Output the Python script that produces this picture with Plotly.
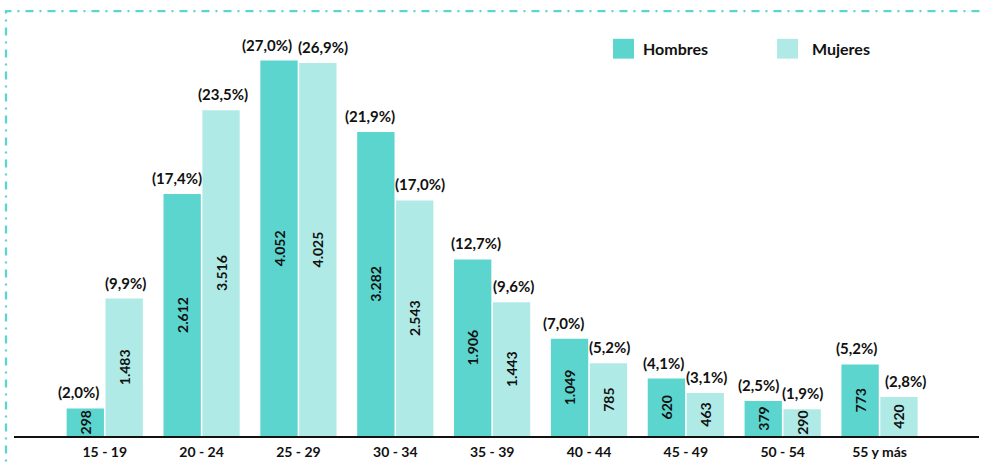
import plotly.graph_objects as go

categories = ["15 - 19", "20 - 24", "25 - 29", "30 - 34", "35 - 39", "40 - 44", "45 - 49", "50 - 54", "55 y más"]
hombres = [298, 2612, 4052, 3282, 1906, 1049, 620, 379, 773]
mujeres = [1483, 3516, 4025, 2543, 1443, 785, 463, 290, 420]
hombres_pct = ["(2,0%)", "(17,4%)", "(27,0%)", "(21,9%)", "(12,7%)", "(7,0%)", "(4,1%)", "(2,5%)", "(5,2%)"]
mujeres_pct = ["(9,9%)", "(23,5%)", "(26,9%)", "(17,0%)", "(9,6%)", "(5,2%)", "(3,1%)", "(1,9%)", "(2,8%)"]

# horizontal nudges (px) of the percentage labels, as placed in the original
h_nudge = [-7, -5, -12, -5.5, 3.5, -5.5, -3, -5, -4]
m_nudge = [1, 1.5, 5, 5, 1.5, 1, 1, 0, 6.5]

C_H = "#5DD5CF"
C_M = "#B0EAE6"
FONT = "Lato"
TXT = "#111111"

def fmt(v):
    return f"{v:,}".replace(",", ".")

fig = go.Figure()
for name, vals, col in [("Hombres", hombres, C_H), ("Mujeres", mujeres, C_M)]:
    fig.add_trace(go.Bar(
        x=categories, y=vals, name=name, marker=dict(color=col, line=dict(width=0)),
        text=[fmt(v) for v in vals], textposition="inside", insidetextanchor="middle",
        textangle=-90, constraintext="none", cliponaxis=False,
        textfont=dict(family=FONT, size=14, color=TXT, weight="bold"),
        showlegend=False, hoverinfo="skip",
    ))

annotations = []
for c, v, p, n in zip(categories, hombres, hombres_pct, h_nudge):
    annotations.append(dict(x=c, y=v, text=f"<b>{p}</b>", showarrow=False, xshift=-19.5 + n,
                            yanchor="bottom", yshift=5, font=dict(family=FONT, size=15, color=TXT)))
for c, v, p, n in zip(categories, mujeres, mujeres_pct, m_nudge):
    annotations.append(dict(x=c, y=v, text=f"<b>{p}</b>", showarrow=False, xshift=19.5 + n,
                            yanchor="bottom", yshift=5, font=dict(family=FONT, size=15, color=TXT)))

W, H = 983, 464
L, R, T, B = 14, 4, 20, 24
pw, ph = W - L - R, H - T - B
def px(x):
    return (x - L) / pw
def py(y):
    return (H - B - y) / ph

shapes = [
    dict(type="rect", xref="paper", yref="paper", x0=px(613), x1=px(634), y0=py(59), y1=py(39),
         fillcolor=C_H, line=dict(width=0)),
    dict(type="rect", xref="paper", yref="paper", x0=px(777), x1=px(798), y0=py(59), y1=py(39),
         fillcolor=C_M, line=dict(width=0)),
    dict(type="path", xref="paper", yref="paper",
         path=f"M {px(6)} {py(480)} L {px(6)} {py(11)} L {px(1000)} {py(11)}",
         line=dict(color="#5DD5CF", width=2.3, dash="8px,6px,2px,6px")),
]
annotations.append(dict(xref="paper", yref="paper", x=px(641), y=py(49), xanchor="left", yanchor="middle",
                        text="<b>Hombres</b>", showarrow=False, font=dict(family=FONT, size=16, color=TXT)))
annotations.append(dict(xref="paper", yref="paper", x=px(810), y=py(49), xanchor="left", yanchor="middle",
                        text="<b>Mujeres</b>", showarrow=False, font=dict(family=FONT, size=16, color=TXT)))

fig.update_layout(
    width=W, height=H,
    margin=dict(l=L, r=R, t=T, b=B, pad=0),
    paper_bgcolor="white", plot_bgcolor="white",
    barmode="group", bargap=0.197, bargroupgap=0.04,
    annotations=annotations, shapes=shapes, hovermode=False,
    xaxis=dict(range=[-0.937, 9.027], showline=True, linecolor=TXT, linewidth=1.5,
               showgrid=False, ticks="", ticklabelstandoff=3, fixedrange=True,
               tickfont=dict(family=FONT, size=14, color=TXT, weight="bold")),
    yaxis=dict(range=[0, 4490], visible=False, showgrid=False, zeroline=False, fixedrange=True),
)

fig.write_html("out.html", config={"displayModeBar": False, "staticPlot": True},
               post_script="document.body.style.margin='0';document.body.style.padding='0';")
